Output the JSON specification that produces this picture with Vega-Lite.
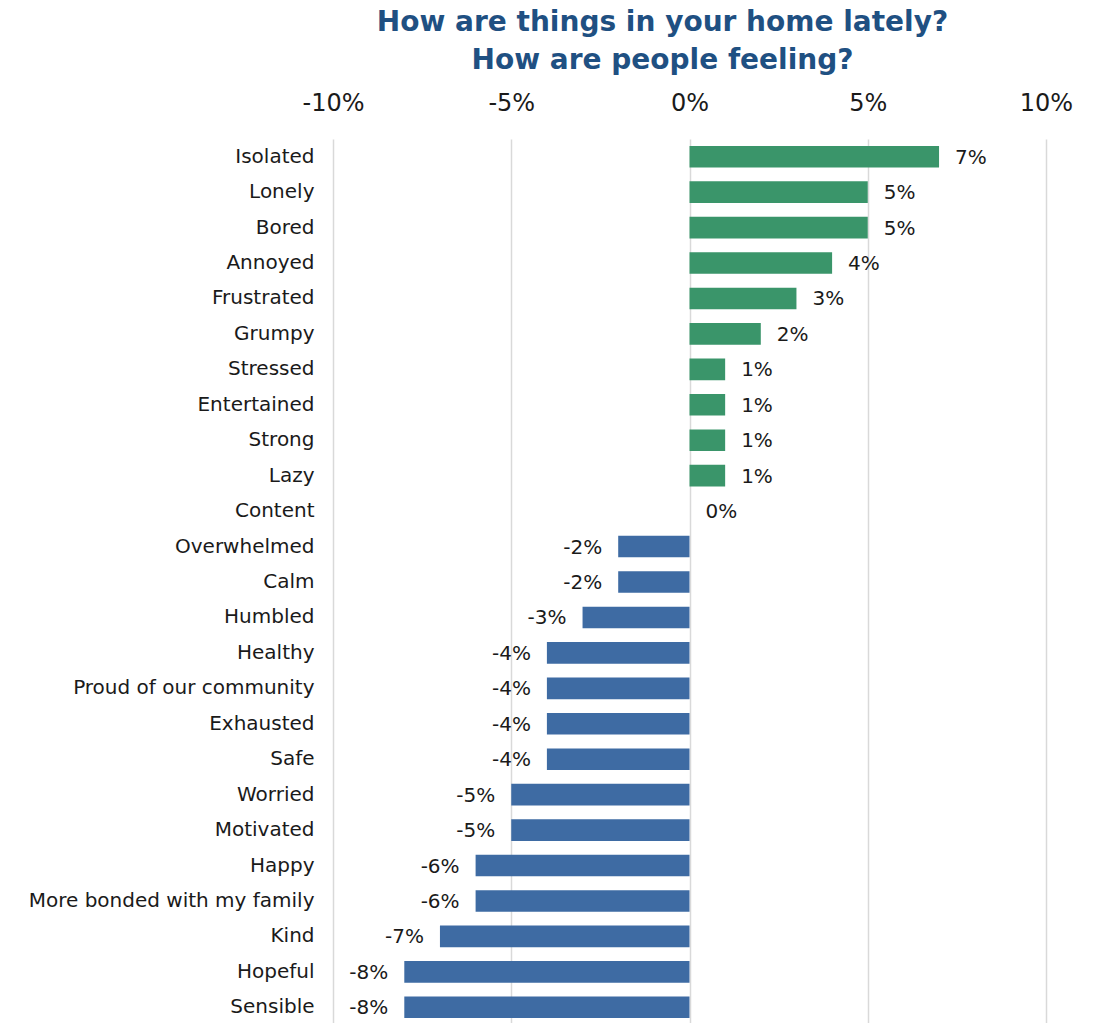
{
  "$schema": "https://vega.github.io/schema/vega-lite/v6.json",
  "autosize": {"type": "none"},
  "padding": {"left": 333, "top": 139, "right": 55, "bottom": 0},
  "width": 713,
  "height": 886,
  "background": "white",
  "config": {"font": "DejaVu Sans", "view": {"stroke": null}},
  "title": {
    "text": ["How are things in your home lately?", "How are people feeling?"],
    "fontSize": 28,
    "fontWeight": "bold",
    "color": "#1F5082",
    "font": "DejaVu Sans",
    "anchor": "middle",
    "dx": -27,
    "offset": 16,
    "lineHeight": 38
  },
  "data": {
    "values": [
      {"feeling": "Isolated", "v": 7},
      {"feeling": "Lonely", "v": 5},
      {"feeling": "Bored", "v": 5},
      {"feeling": "Annoyed", "v": 4},
      {"feeling": "Frustrated", "v": 3},
      {"feeling": "Grumpy", "v": 2},
      {"feeling": "Stressed", "v": 1},
      {"feeling": "Entertained", "v": 1},
      {"feeling": "Strong", "v": 1},
      {"feeling": "Lazy", "v": 1},
      {"feeling": "Content", "v": 0},
      {"feeling": "Overwhelmed", "v": -2},
      {"feeling": "Calm", "v": -2},
      {"feeling": "Humbled", "v": -3},
      {"feeling": "Healthy", "v": -4},
      {"feeling": "Proud of our community", "v": -4},
      {"feeling": "Exhausted", "v": -4},
      {"feeling": "Safe", "v": -4},
      {"feeling": "Worried", "v": -5},
      {"feeling": "Motivated", "v": -5},
      {"feeling": "Happy", "v": -6},
      {"feeling": "More bonded with my family", "v": -6},
      {"feeling": "Kind", "v": -7},
      {"feeling": "Hopeful", "v": -8},
      {"feeling": "Sensible", "v": -8}
    ]
  },
  "transform": [{"calculate": "datum.v + '%'", "as": "label"}],
  "encoding": {
    "y": {
      "field": "feeling",
      "type": "nominal",
      "sort": null,
      "title": null,
      "scale": {"paddingInner": 0.39, "paddingOuter": 0.195},
      "axis": {
        "domain": false,
        "ticks": false,
        "labelFontSize": 20,
        "labelColor": "#1a1a1a",
        "labelPadding": 19,
        "labelLimit": 400
      }
    }
  },
  "layer": [
    {
      "mark": {"type": "bar"},
      "encoding": {
        "x": {
          "field": "v",
          "type": "quantitative",
          "title": null,
          "scale": {"domain": [-10, 10], "nice": false},
          "axis": {
            "orient": "top",
            "values": [-10, -5, 0, 5, 10],
            "labelExpr": "datum.value + '%'",
            "labelFlush": false,
            "labelOverlap": false,
            "domain": false,
            "ticks": false,
            "labelFontSize": 24,
            "labelColor": "#1a1a1a",
            "labelPadding": 24,
            "gridColor": "#D9D9D9",
            "gridWidth": 1.5
          }
        },
        "color": {
          "condition": {"test": "datum.v > 0", "value": "#3A956A"},
          "value": "#3E6BA3"
        }
      }
    },
    {
      "mark": {"type": "rule", "color": "black", "strokeWidth": 2},
      "encoding": {"x": {"datum": 0, "type": "quantitative"}}
    },
    {
      "transform": [{"filter": "datum.v >= 0"}],
      "mark": {"type": "text", "align": "left", "dx": 16, "fontSize": 20, "color": "#1a1a1a", "baseline": "middle", "dy": 1},
      "encoding": {
        "x": {"field": "v", "type": "quantitative"},
        "text": {"field": "label"}
      }
    },
    {
      "transform": [{"filter": "datum.v < 0"}],
      "mark": {"type": "text", "align": "right", "dx": -16, "fontSize": 20, "color": "#1a1a1a", "baseline": "middle", "dy": 1},
      "encoding": {
        "x": {"field": "v", "type": "quantitative"},
        "text": {"field": "label"}
      }
    }
  ]
}
